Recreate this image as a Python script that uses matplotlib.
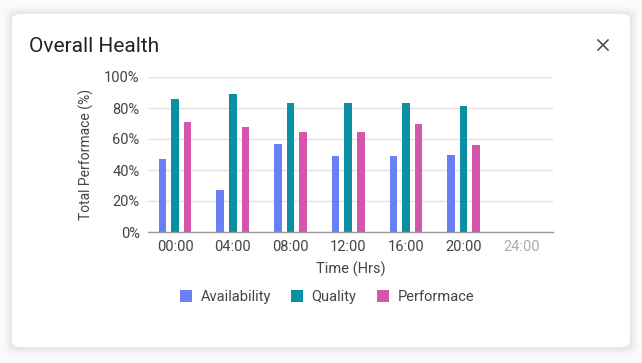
import numpy as np
import matplotlib.pyplot as plt
from matplotlib.patches import FancyBboxPatch
from matplotlib.lines import Line2D

plt.rcParams["font.family"] = ["Roboto", "DejaVu Sans"]

times = ["00:00", "04:00", "08:00", "12:00", "16:00", "20:00", "24:00"]
availability = [47, 27, 57, 49, 49, 50]
quality = [86, 89, 83, 83, 83, 81.5]
performance = [71, 67.5, 64.5, 64.5, 70, 56]

series = [
    ("Availability", availability, "#6b7ff4"),
    ("Quality", quality, "#0b8fa2"),
    ("Performace", performance, "#d455a9"),
]

W, H = 642, 363
fig = plt.figure(figsize=(W / 100, H / 100), dpi=100, facecolor="#fafafa")


def fx(px):
    return px / W


def fy(py):
    return 1 - py / H


# card with soft shadow
for i, a in enumerate([0.010, 0.015, 0.02, 0.028]):
    pad = (4 - i) * 2.0
    fig.patches.append(FancyBboxPatch(
        (fx(12 - pad), fy(348 + pad)), fx(618 + 2 * pad), (334 + 2 * pad) / H,
        boxstyle="round,pad=0,rounding_size=0.02", transform=fig.transFigure,
        facecolor="black", edgecolor="none", alpha=a, zorder=0))
fig.patches.append(FancyBboxPatch(
    (fx(12), fy(347)), fx(618), 333 / H,
    boxstyle="round,pad=0,rounding_size=0.015", transform=fig.transFigure,
    facecolor="white", edgecolor="none", zorder=1))

fig.text(fx(29), fy(47), "Overall Health", fontsize=15, color="#222222",
         ha="left", va="center", zorder=3)

# close icon
for (x0, y0, x1, y1) in [(598, 40, 608, 50), (598, 50, 608, 40)]:
    fig.lines.append(Line2D([fx(x0), fx(x1)], [fy(y0), fy(y1)],
                            transform=fig.transFigure, color="#444444",
                            linewidth=1.1, zorder=3))

ax = fig.add_axes([fx(148), fy(232), fx(553 - 148), (232 - 77) / H])
ax.set_facecolor("none")
ax.set_zorder(2)

x = np.arange(len(times))
width = 0.13
offset = 0.218
for k, (name, vals, color) in enumerate(series):
    ax.bar(x[:len(vals)] + (k - 1) * offset, vals, width, color=color,
           label=name, zorder=3)

ax.set_xlim(-0.47, 6.55)
ax.set_ylim(0, 100)
ax.set_yticks(np.arange(0, 101, 20))
ax.set_yticklabels([f"{v}%" for v in range(0, 101, 20)])
ax.set_xticks(x)
ax.set_xticklabels(times)
ax.tick_params(axis="both", length=0, labelsize=10.5, colors="#444444")
ax.tick_params(axis="x", pad=6)
ax.tick_params(axis="y", pad=6)
ax.get_xticklabels()[-1].set_color("#aaaaaa")

ax.yaxis.grid(True, color="#e2e2e2", linewidth=1, zorder=0)
ax.set_axisbelow(True)
for s in ["top", "right", "left"]:
    ax.spines[s].set_visible(False)
ax.spines["bottom"].set_color("#999999")
ax.spines["bottom"].set_linewidth(1)
ax.spines["bottom"].set_zorder(4)

ax.set_ylabel("Total Performace (%)", fontsize=10, color="#444444", labelpad=7)
ax.set_xlabel("Time (Hrs)", fontsize=10.5, color="#444444", labelpad=5)

leg = fig.legend(*ax.get_legend_handles_labels(), loc="center",
                 bbox_to_anchor=(fx(327), fy(297)), ncol=3,
                 frameon=False, fontsize=10.5, handlelength=0.8,
                 handleheight=0.8, handletextpad=0.6, columnspacing=1.4)
leg.set_zorder(3)
for t in leg.get_texts():
    t.set_color("#444444")

fig.savefig("out.png", dpi=100, facecolor=fig.get_facecolor())
